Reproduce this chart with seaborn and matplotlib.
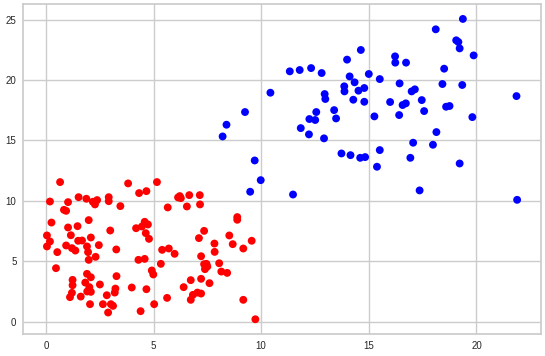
import numpy as np
import pandas as pd
import matplotlib
matplotlib.use("Agg")
import matplotlib.pyplot as plt
import seaborn as sns

# red cluster
red_x = [0.66, 0.19, 0.84, 0.94, 1.03, 0.26, 0.05, 0.19, 0.05, 0.53, 0.47, 1.03, 1.16, 0.94, 1.21,
         1.37, 1.47, 1.52, 1.50, 1.68, 1.88, 2.18, 2.28, 2.38, 1.99, 2.09, 1.91, 1.96, 1.99, 2.31,
         2.46, 1.91, 2.09, 1.83, 2.02, 1.92, 2.09, 1.24, 1.24, 1.21, 1.12, 1.62, 2.05, 2.51, 2.65,
         2.83, 2.89, 3.02, 3.12, 3.20, 3.23, 3.28, 3.27, 2.99, 2.92, 2.92, 3.46, 3.82, 3.99, 4.19,
         4.33, 4.67, 4.30, 4.59, 4.46, 4.59, 4.74, 4.64, 4.79, 4.92, 4.99, 4.67, 4.40, 5.03, 5.16,
         5.34, 5.40, 5.63, 5.66, 5.71, 5.98, 6.14, 6.22, 6.27, 6.40, 6.55, 6.66, 6.73, 6.73, 6.83,
         7.04, 7.21, 7.15, 7.16, 7.11, 7.35, 7.21, 7.21, 7.35, 7.46, 7.39, 7.50, 7.60, 7.83, 7.84,
         8.05, 8.15, 8.42, 8.52, 8.68, 8.89, 8.89, 9.17, 9.17, 9.56, 9.73]
red_y = [11.55, 9.94, 9.25, 9.17, 9.89, 8.20, 7.13, 6.63, 6.22, 5.75, 4.42, 7.79, 7.15, 6.30, 6.08,
         5.88, 7.90, 10.30, 6.69, 6.71, 10.17, 9.92, 9.70, 10.06, 8.40, 6.96, 6.22, 5.75, 5.11, 5.36,
         6.33, 3.95, 3.67, 3.23, 2.85, 2.49, 2.46, 3.45, 3.01, 2.38, 2.02, 2.07, 1.44, 3.07, 1.44,
         2.18, 0.75, 1.44, 1.30, 2.40, 2.73, 3.76, 5.97, 7.54, 10.30, 9.97, 9.56, 11.44, 2.82, 7.73,
         10.64, 10.80, 5.11, 5.19, 7.87, 8.26, 8.04, 7.32, 6.85, 4.23, 3.90, 2.68, 0.86, 1.44, 11.55,
         4.78, 5.94, 1.96, 9.45, 6.05, 5.61, 10.28, 10.39, 10.22, 2.85, 9.53, 10.47, 3.43, 1.80, 2.21,
         2.40, 2.32, 10.47, 9.70, 6.91, 7.51, 5.41, 3.54, 4.75, 4.78, 4.34, 4.56, 3.18, 6.46, 5.77,
         4.83, 4.14, 4.03, 7.13, 6.41, 8.65, 8.43, 6.05, 1.80, 6.69, 0.19]

# blue cluster
blue_x = [8.21, 8.39, 9.25, 9.70, 9.49, 9.98, 10.43, 11.33, 11.48, 11.79, 12.32, 12.81, 11.84, 12.24,
          12.51, 12.56, 12.22, 12.92, 12.95, 12.98, 13.39, 13.48, 13.73, 14.15, 13.86, 13.87, 13.99,
          14.11, 14.34, 14.28, 14.52, 14.63, 14.79, 14.79, 14.60, 14.83, 15.00, 15.26, 15.38, 15.51,
          15.51, 15.99, 16.22, 16.23, 16.43, 16.41, 16.57, 16.73, 16.72, 16.93, 16.99, 17.14, 17.06,
          17.36, 17.46, 17.57, 17.98, 18.14, 18.11, 18.42, 18.50, 18.59, 18.75, 19.06, 19.16, 19.22,
          19.22, 19.37, 19.34, 19.81, 19.87, 21.86, 21.89]
blue_y = [15.33, 16.30, 17.35, 13.34, 10.75, 11.71, 18.95, 20.72, 10.52, 20.83, 20.99, 20.58, 16.02,
          16.77, 16.69, 17.35, 15.50, 15.17, 18.84, 18.43, 17.51, 16.82, 13.92, 13.78, 19.48, 19.06,
          21.69, 20.30, 19.81, 18.37, 19.12, 22.49, 19.34, 18.20, 13.56, 13.62, 20.50, 16.99, 12.82,
          20.08, 14.20, 18.18, 21.96, 21.44, 19.72, 17.10, 17.93, 21.44, 18.07, 13.56, 19.06, 19.23,
          14.81, 10.86, 18.34, 17.43, 14.64, 15.69, 24.20, 19.67, 20.94, 17.79, 17.85, 23.29, 23.15,
          22.62, 13.09, 25.06, 19.59, 16.93, 22.04, 18.67, 10.08]

df = pd.DataFrame({
    "x": red_x + blue_x,
    "y": red_y + blue_y,
    "cluster": ["red"] * len(red_x) + ["blue"] * len(blue_x),
})

sns.set_theme(style="whitegrid")
plt.rcParams["font.family"] = ["Liberation Sans", "DejaVu Sans"]

fig, ax = plt.subplots(figsize=(5.45, 3.56), dpi=100)
sns.scatterplot(data=df, x="x", y="y", hue="cluster",
                palette={"red": "red", "blue": "blue"},
                s=32, linewidth=0, legend=False, ax=ax)
ax.set_xlabel("")
ax.set_ylabel("")
ax.set_xticks([0, 5, 10, 15, 20])
ax.set_yticks([0, 5, 10, 15, 20, 25])
ax.tick_params(labelsize=7, length=0, pad=5)
fig.subplots_adjust(left=0.043, right=0.992, top=0.989, bottom=0.061)
fig.savefig("out.png")
